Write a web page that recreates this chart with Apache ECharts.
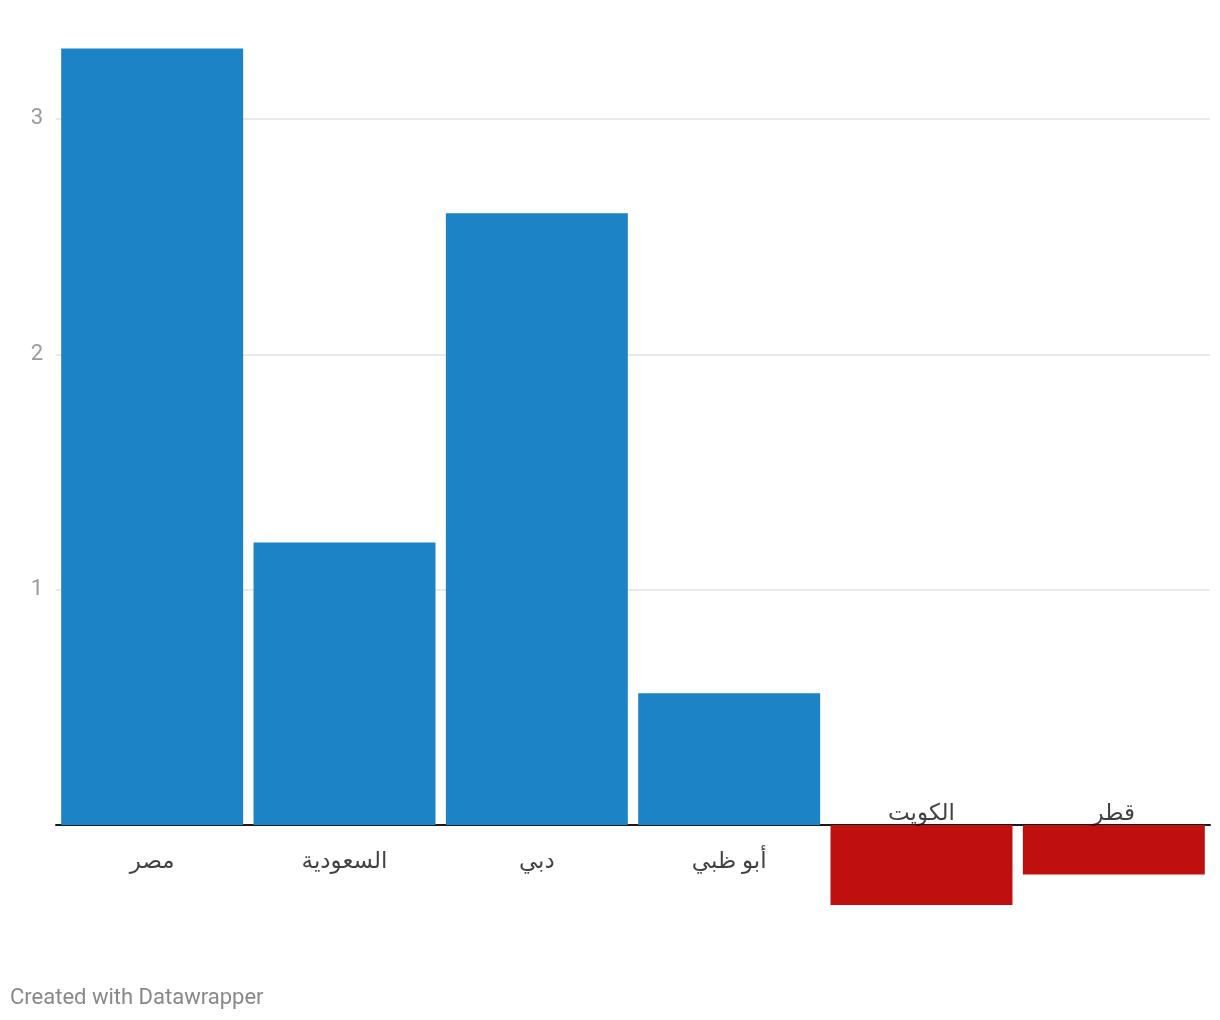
<!DOCTYPE html>
<html>
<head>
<meta charset="utf-8">
<script src="https://cdn.jsdelivr.net/npm/echarts@6/dist/echarts.min.js"></script>
<style>
html,body{margin:0;padding:0;background:#fff;}
#chart{width:1220px;height:1020px;}
</style>
</head>
<body>
<div id="chart"></div>
<script>
const categories = ['مصر', 'السعودية', 'دبي', 'أبو ظبي', 'الكويت', 'قطر'];
const values = [3.3, 1.2, 2.6, 0.56, -0.34, -0.21];
const gridTicks = [1, 2, 3];
const footer = 'Created with Datawrapper';

const POS = '#1b83c6', NEG = '#c00f0f';
const chart = echarts.init(document.getElementById('chart'), null, {renderer: 'canvas'});
chart.setOption({
  animation: false,
  backgroundColor: '#fff',
  grid: {left: 56, right: 10, top: 1.33, bottom: 77.33, containLabel: false},
  xAxis: {
    type: 'category',
    data: categories,
    axisLine: {onZero: true, lineStyle: {color: '#1a1a1a', width: 2}},
    axisTick: {show: false},
    axisLabel: {show: false},
    splitLine: {show: false}
  },
  yAxis: {
    type: 'value',
    min: -0.5, max: 3.5, interval: 0.5,
    axisLine: {show: false},
    axisTick: {show: false},
    splitLine: {show: false},
    axisLabel: {
      color: '#9a9a9a', fontSize: 22, fontFamily: 'Roboto', margin: 13,
      padding: [4, 0, 0, 0],
      formatter: v => (gridTicks.indexOf(v) >= 0 ? String(v) : '')
    }
  },
  series: [
    {
      type: 'bar',
      barCategoryGap: '5.4%',
      z: 2,
      data: values.map(v => ({value: v, itemStyle: {color: v >= 0 ? POS : NEG}})),
      markLine: {
        silent: true, z: 1, symbol: 'none', label: {show: false},
        lineStyle: {color: '#e2e2e2', width: 1.5, type: 'solid'},
        data: gridTicks.map(t => ({yAxis: t}))
      }
    },
    {
      type: 'scatter',
      symbolSize: 0,
      z: 5,
      silent: true,
      data: values.map((v, i) => ({
        value: [categories[i], 0],
        label: {offset: [0, v >= 0 ? 37 : -11]}
      })),
      label: {
        show: true, position: 'inside',
        formatter: p => p.name || categories[p.dataIndex],
        color: '#111', fontSize: 23, fontFamily: 'Roboto, "DejaVu Sans", "Noto Sans"'
      }
    }
  ],
  graphic: [{
    type: 'text', left: 10, top: 987,
    style: {text: footer, fill: '#888', fontSize: 22, fontFamily: 'Roboto'}
  }]
});
</script>
</body>
</html>
